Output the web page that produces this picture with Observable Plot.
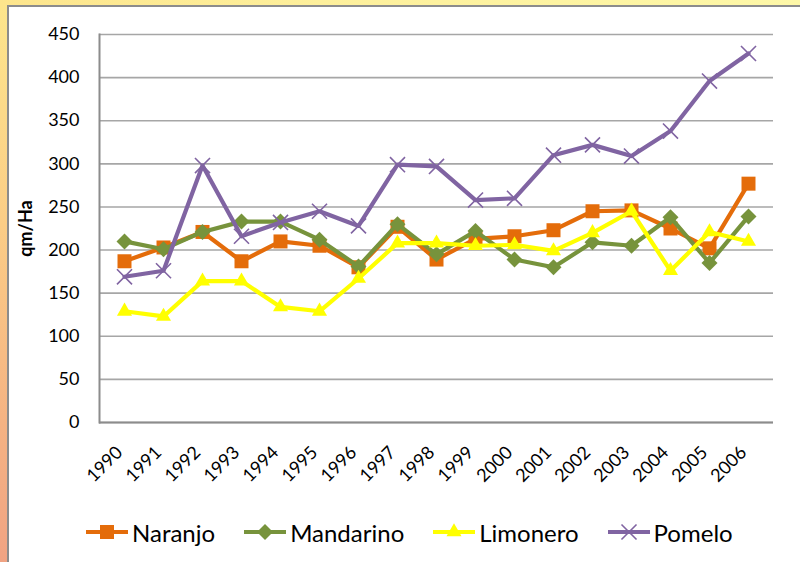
<!DOCTYPE html>
<html>
<head>
<meta charset="utf-8">
<script src="https://cdn.jsdelivr.net/npm/d3@7"></script>
<script src="https://cdn.jsdelivr.net/npm/@observablehq/plot@0.6"></script>
<style>
  html, body { margin: 0; padding: 0; }
  #frame { position: relative; width: 800px; height: 562px; overflow: hidden;
    background: linear-gradient(to bottom, #fde68c 0%, #fbcd86 40%, #f5b383 75%, #f0a383 100%); font-family: Lato, sans-serif; }
  #topstrip { position: absolute; left: 0; top: 0; width: 800px; height: 6px;
    background: linear-gradient(to right, #fde58c 0%, #fef09c 40%, #fef8a8 100%); }
  #panel { position: absolute; left: 7px; top: 5px; right: 0; bottom: 0; background: #fff;
    border-left: 2px solid #8c8c8c; border-top: 2px solid #8c8c8c; }
  #chart { position: absolute; left: 0; top: 0; }
  #legend { position: absolute; left: 86px; top: 516px; height: 32px; display: flex; align-items: center; gap: 29px;
    font-family: Lato, sans-serif; font-size: 24px; color: #000; }
  .item { display: flex; align-items: center; gap: 4px; }
</style>
</head>
<body>
<div id="frame">
  <div id="topstrip"></div>
  <div id="panel"></div>
  <div id="chart"></div>
  <div id="legend"></div>
</div>
<script>
const years = ["1990","1991","1992","1993","1994","1995","1996","1997","1998","1999","2000","2001","2002","2003","2004","2005","2006"];
const naranjo   = [187, 203, 221, 187, 210, 205, 180, 227, 189, 213, 216, 223, 245, 246, 225, 202, 277];
const mandarino = [210, 201, 221, 233, 233, 212, 181, 230, 195, 222, 189, 180, 209, 205, 238, 185, 239];
const limonero  = [129, 123, 164, 164, 134, 129, 167, 208, 208, 205, 206, 199, 220, 245, 176, 221, 210];
const pomelo    = [169, 176, 298, 216, 232, 245, 228, 299, 297, 258, 260, 310, 322, 309, 338, 396, 428];
const yTicks = [0, 50, 100, 150, 200, 250, 300, 350, 400, 450];
const seriesNames = ["Naranjo", "Mandarino", "Limonero", "Pomelo"];
const seriesValues = [naranjo, mandarino, limonero, pomelo];
const seriesColors = ["#E46C0A", "#77933C", "#FFFF00", "#8064A2"];
const seriesSymbols = ["square", "diamond2", "triangle", "times"];
const symbolR = [7.9, 7.2, 5.6, 6.9];
const yLabel = "qm/Ha";

const marks = [
  Plot.gridY(yTicks, {stroke: "#a6a6a6", strokeOpacity: 1, strokeWidth: 1.6}),
  Plot.ruleY([0], {stroke: "#8c8c8c", strokeWidth: 2}),
  Plot.frame({anchor: "left", stroke: "#8c8c8c", strokeWidth: 2}),
  Plot.axisY(yTicks, {tickSize: 0, tickPadding: 20, label: null, fontSize: 18}),
  Plot.axisX({tickRotate: -45, tickSize: 0, tickPadding: 27, dx: -5, label: null, fontSize: 18}),
  Plot.text([yLabel], {frameAnchor: "left", textAnchor: "middle", dx: -73, rotate: -90, fontWeight: "bold", fontSize: 18, text: d => d})
];
seriesNames.forEach((name, i) => {
  const rows = years.map((y, j) => ({year: y, value: seriesValues[i][j]}));
  marks.push(Plot.line(rows, {x: "year", y: "value", stroke: seriesColors[i], strokeWidth: 4.2, curve: "linear"}));
  if (seriesSymbols[i] === "times") {
    marks.push(Plot.dot(rows, {x: "year", y: "value", symbol: "times", r: symbolR[i], stroke: seriesColors[i], strokeWidth: 1.6, fill: "none"}));
  } else {
    marks.push(Plot.dot(rows, {x: "year", y: "value", symbol: seriesSymbols[i], r: symbolR[i], fill: seriesColors[i], stroke: "none"}));
  }
});

const chart = Plot.plot({
  width: 800,
  height: 505,
  marginLeft: 99,
  marginRight: 27,
  marginTop: 34,
  marginBottom: 83,
  style: {fontFamily: "Lato, sans-serif", fontSize: "18px", background: "transparent", color: "#000", overflow: "visible"},
  x: {type: "point", domain: years, padding: 0.5},
  y: {domain: [0, 450]},
  marks
});
document.getElementById("chart").appendChild(chart);

// legend
const legend = document.getElementById("legend");
seriesNames.forEach((name, i) => {
  const item = document.createElement("div");
  item.className = "item";
  const sw = d3.create("svg").attr("width", 42).attr("height", 20);
  sw.append("line").attr("x1", 0).attr("x2", 42).attr("y1", 10).attr("y2", 10)
    .attr("stroke", seriesColors[i]).attr("stroke-width", 4.2);
  const sym = {square: d3.symbolSquare, diamond2: d3.symbolDiamond2, triangle: d3.symbolTriangle, times: d3.symbolTimes}[seriesSymbols[i]];
  const p = sw.append("path").attr("transform", "translate(21,10)")
    .attr("d", d3.symbol(sym, Math.PI * symbolR[i] * symbolR[i])());
  if (seriesSymbols[i] === "times") p.attr("fill", "none").attr("stroke", seriesColors[i]).attr("stroke-width", 1.6);
  else p.attr("fill", seriesColors[i]);
  item.appendChild(sw.node());
  const t = document.createElement("span");
  t.textContent = name;
  item.appendChild(t);
  legend.appendChild(item);
});
</script>
</body>
</html>
